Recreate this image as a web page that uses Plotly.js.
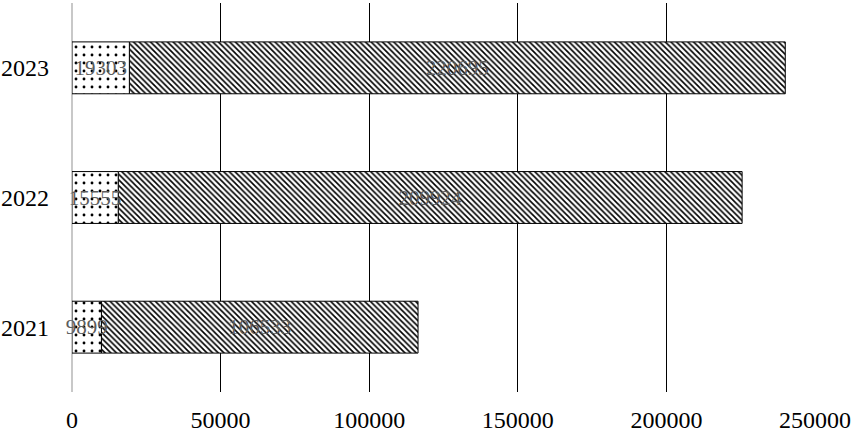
<!DOCTYPE html>
<html>
<head>
<meta charset="utf-8">
<script src="https://cdn.plot.ly/plotly-3.0.1.min.js"></script>
<style>
  html, body { margin: 0; padding: 0; background: #fff; }
  #grafica { width: 855px; height: 434px; }
</style>
</head>
<body>
<div id="grafica"></div>
<script>
// Datos
const anios = ["2021", "2022", "2023"];
const serieA = [9899, 15555, 19303];
const serieB = [106533, 209924, 220695];
const ticksX = [0, 50000, 100000, 150000, 200000, 250000];

const fuente = "Liberation Serif, Times New Roman, serif";

function trazo(valores, base, forma, tam, solidez) {
    return {
        type: 'bar',
        orientation: 'h',
        y: anios,
        x: valores,
        base: base,
        text: valores.map(String),
        textposition: 'inside',
        insidetextanchor: 'middle',
        textangle: 0,
        constraintext: 'none',
        cliponaxis: false,
        textfont: { family: fuente, size: 21, color: '#5c5c5c' },
        marker: {
            color: '#ffffff',
            line: { color: '#000000', width: 1 },
            pattern: { shape: forma, fgcolor: '#000000', bgcolor: '#ffffff', size: tam, solidity: solidez }
        },
        width: 0.4,
        hoverinfo: 'skip'
    };
}

// la serie B se dibuja primero (apoyada sobre A) para que el texto de A quede encima
const trazoB = trazo(serieB, serieA, '\\', 4, 0.4);
const trazoA = trazo(serieA, anios.map(() => 0), '.', 8, 0.1);

const layout = {
    barmode: 'overlay',
    showlegend: false,
    paper_bgcolor: '#ffffff',
    plot_bgcolor: '#ffffff',
    margin: { l: 72, r: 40, t: 3, b: 42 },
    xaxis: {
        range: [0, 250000],
        tickvals: ticksX,
        ticktext: ticksX.map(String),
        showgrid: true,
        gridcolor: '#000000',
        gridwidth: 1,
        zeroline: true,
        zerolinecolor: '#c8c8c8',
        zerolinewidth: 2,
        showline: false,
        ticks: '',
        ticklabelstandoff: 11,
        tickfont: { family: fuente, size: 24, color: '#000000' }
    },
    yaxis: {
        type: 'category',
        categoryorder: 'array',
        categoryarray: anios,
        showgrid: false,
        zeroline: false,
        showline: false,
        ticks: '',
        ticklabelstandoff: 22,
        tickfont: { family: fuente, size: 24, color: '#000000' }
    }
};

Plotly.newPlot("grafica", [trazoB, trazoA], layout, { staticPlot: true });
</script>
</body>
</html>
